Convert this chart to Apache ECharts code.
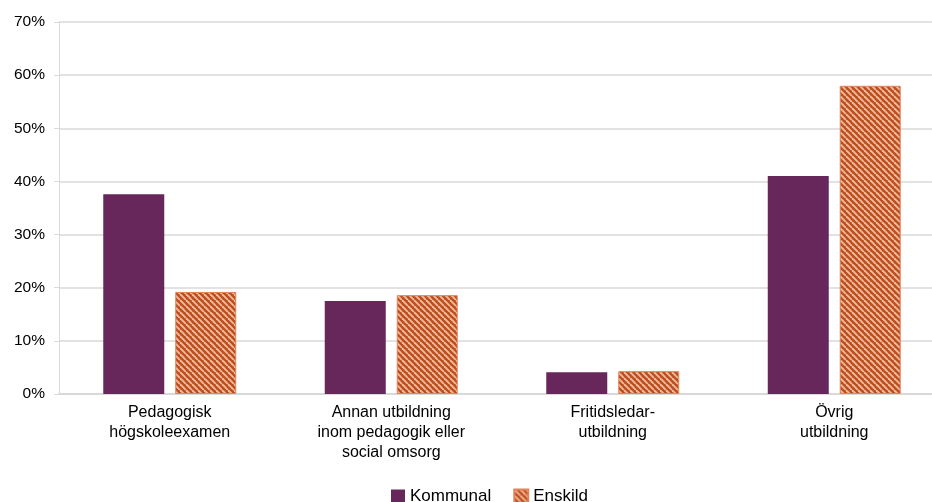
<!DOCTYPE html>
<html><head><meta charset="utf-8">
<script src="https://cdn.jsdelivr.net/npm/echarts@6/dist/echarts.min.js"></script>
<style>html,body{margin:0;padding:0;background:#fff}#c{width:932px;height:502px}</style>
</head><body><div id="c"></div>
<script>
var categories = ['Pedagogisk\nhögskoleexamen', 'Annan utbildning\ninom pedagogik eller\nsocial omsorg', 'Fritidsledar-\nutbildning', 'Övrig\nutbildning'];
var kommunal = [37.6, 17.5, 4.1, 41.0];
var enskild = [19.2, 18.6, 4.3, 58.0];
var yTicks = [0, 10, 20, 30, 40, 50, 60, 70];

function makePattern() {
  var s = 6;
  var c = document.createElement('canvas');
  c.width = s; c.height = s;
  var g = c.getContext('2d');
  g.fillStyle = '#BF4E1E';
  g.fillRect(0, 0, s, s);
  g.strokeStyle = '#F0BC9E';
  g.lineWidth = 1.9;
  for (var k = -1; k <= 1; k++) {
    g.beginPath();
    g.moveTo(k * s, 0);
    g.lineTo(k * s + s, s);
    g.stroke();
  }
  return c;
}

var chart = echarts.init(document.getElementById('c'));
chart.setOption({
  animation: false,
  grid: { left: 59, right: -13, top: 22, bottom: 108, outerBoundsMode: 'none', containLabel: false },
  legend: {
    top: 483, left: 386, itemWidth: 14, itemHeight: 14, itemGap: 22, icon: 'rect',
    textStyle: { fontFamily: 'Liberation Sans', fontSize: 17, color: '#000', padding: [3, 0, 0, 0] },
    data: ['Kommunal', 'Enskild']
  },
  xAxis: {
    type: 'category', data: categories,
    axisLine: { lineStyle: { color: '#d9d9d9', width: 2 } },
    axisTick: { show: false },
    axisLabel: { fontFamily: 'Liberation Sans', fontSize: 16, color: '#000', lineHeight: 20, margin: 9, interval: 0 }
  },
  yAxis: {
    type: 'value', min: 0, max: 70, interval: 10,
    axisLine: { show: true, lineStyle: { color: '#d9d9d9' } },
    axisTick: { show: true, length: 5, lineStyle: { color: '#d9d9d9' } },
    splitLine: { lineStyle: { color: '#d9d9d9', width: 1.5 } },
    axisLabel: { fontFamily: 'Liberation Sans', fontSize: 15.5, color: '#000', margin: 14,
      formatter: function (v) { return yTicks.indexOf(v) >= 0 ? v + '%' : ''; } }
  },
  series: [
    { name: 'Kommunal', type: 'bar', data: kommunal, barWidth: 61, barGap: '18%',
      itemStyle: { color: '#68275A' } },
    { name: 'Enskild', type: 'bar', data: enskild, barWidth: 61,
      itemStyle: { color: { image: makePattern(), repeat: 'repeat' }, borderColor: '#E0845A', borderWidth: 1 } }
  ]
});
</script></body></html>
